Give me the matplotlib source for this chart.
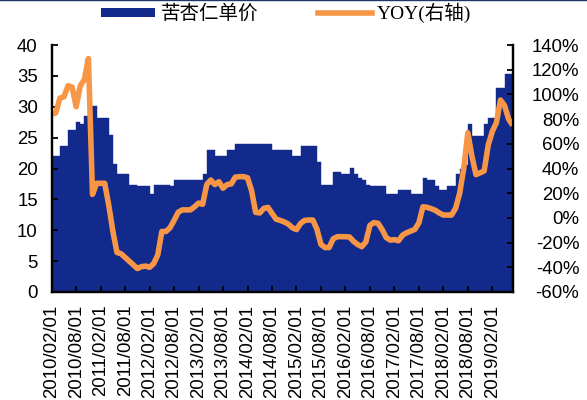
import matplotlib
matplotlib.use("Agg")
import matplotlib.pyplot as plt
from matplotlib.patches import Patch
from matplotlib.lines import Line2D
import numpy as np

plt.rcParams['font.family'] = ['Liberation Sans', 'Noto Sans CJK SC']

# monthly unit price (left axis), 2010/02 .. 2019/06
price = [22.0, 22.0, 23.6, 23.6, 26.2, 26.2, 27.5, 27.2, 28.5, 28.5,
         30.1, 28.1, 28.1, 28.1, 25.5, 20.7, 19.1, 19.1, 19.1, 17.4,
         17.4, 17.2, 17.2, 17.2, 15.8, 17.4, 17.4, 17.4, 17.4, 17.2,
         18.1, 18.1, 18.1, 18.1, 18.1, 18.1, 18.1, 19.1, 23.0, 23.0,
         22.0, 22.0, 22.0, 23.0, 23.0, 24.0, 24.0, 24.0, 24.0, 24.0,
         24.0, 24.0, 24.0, 24.0, 23.0, 23.0, 23.0, 23.0, 23.0, 22.0,
         22.0, 23.6, 23.6, 23.6, 23.6, 21.1, 17.4, 17.4, 17.4, 19.5,
         19.5, 19.1, 19.1, 20.1, 19.1, 18.4, 18.1, 17.4, 17.2, 17.2,
         17.2, 17.2, 15.8, 15.8, 15.8, 16.5, 16.5, 16.5, 15.8, 15.8,
         15.8, 18.4, 18.1, 18.1, 17.2, 16.5, 16.5, 17.2, 17.2, 19.1,
         20.0, 20.5, 27.2, 25.3, 25.3, 25.3, 27.2, 28.2, 28.2, 33.0,
         33.0, 35.3, 35.3]

# YOY (%) on right axis
yoy = [84, 85, 97, 98, 107, 106, 90, 107, 112, 129,
       19, 28, 28, 28, 10, -11, -28, -29, -32, -35,
       -38, -41, -39.5, -39, -40, -37, -30, -11, -11, -8,
       -2, 4.5, 6.5, 6.5, 6.5, 9, 12, 11, 27, 30.7,
       27, 29.3, 24, 27, 27.5, 33, 33.4, 33.4, 32.5, 22,
       4.5, 4, 7.7, 8.5, 3.7, -1, -2, -3.3, -5, -8,
       -9.5, -4.5, -2, -1.7, -1.7, -9, -21.5, -24, -24, -17,
       -15.2, -15.2, -15.2, -15.5, -19, -21.5, -23.3, -19.5, -6, -3.8,
       -4.4, -9.5, -16, -18, -17.6, -18.5, -14, -12, -10.7, -9.3,
       -4, 9, 8.6, 7.5, 6.2, 4, 2.3, 2.3, 2.3, 7.7,
       20, 40, 69, 50, 35, 36.5, 38, 59, 70, 77,
       95.5, 91, 80, 75]

tick_labels = ['2010/02/01', '2010/08/01', '2011/02/01', '2011/08/01',
               '2012/02/01', '2012/08/01', '2013/02/01', '2013/08/01',
               '2014/02/01', '2014/08/01', '2015/02/01', '2015/08/01',
               '2016/02/01', '2016/08/01', '2017/02/01', '2017/08/01',
               '2018/02/01', '2018/08/01', '2019/02/01']
left_ticks = [0, 5, 10, 15, 20, 25, 30, 35, 40]
right_ticks = [-60, -40, -20, 0, 20, 40, 60, 80, 100, 120, 140]

series_names = ['苦杏仁单价', 'YOY(右轴)']

NAVY = '#112A8C'
ORANGE = '#F79646'

W, H = 587, 400
fig = plt.figure(figsize=(W / 100, H / 100), dpi=100)
L, R, T, B = 51.7, 512.7, 45, 292
ax = fig.add_axes([L / W, 1 - B / H, (R - L) / W, (B - T) / H])

x = np.arange(len(price))
ax.bar(x, price, width=1.0, color=NAVY, edgecolor=NAVY, linewidth=0.3)
ax.set_xlim(-0.5, len(price) - 0.5)
ax.set_ylim(0, 40)
ax.set_yticks(left_ticks)
ax.set_yticklabels([str(v) for v in left_ticks])
ax.set_xticks(np.arange(0, len(price), 6) - 0.5)
ax.set_xticklabels(tick_labels, rotation=90)

ax2 = ax.twinx()
xl = np.arange(len(yoy)) - 0.5
ax2.plot(xl, yoy, color=ORANGE, lw=4.0, solid_joinstyle='round', solid_capstyle='butt')
ax2.set_ylim(-60, 140)
ax2.set_yticks(right_ticks)
ax2.set_yticklabels([f'{v}%' for v in right_ticks])
ax2.set_xlim(-0.5, len(price) - 0.5)

for a in (ax, ax2):
    a.spines['top'].set_visible(False)
    for s in ('left', 'right', 'bottom'):
        a.spines[s].set_linewidth(1.6)
        a.spines[s].set_color('black')

ax.tick_params(axis='y', direction='in', length=4, width=1.3, labelsize=13.4, pad=10)
ax.tick_params(axis='x', direction='in', length=4, width=1.3, labelsize=13.4, pad=9)
ax2.tick_params(axis='y', direction='in', length=4, width=1.3, labelsize=13.4, pad=48)
for t in ax2.get_yticklabels():
    t.set_horizontalalignment('right')

handles = [Patch(facecolor=NAVY, edgecolor='none'),
           Line2D([0], [0], color=ORANGE, lw=4)]
fig.legend(handles, series_names, loc='center', bbox_to_anchor=(0.488, 0.967),
           ncol=2, frameon=False,
           prop={'family': ['Liberation Serif', 'Noto Sans CJK SC'], 'size': 14},
           handlelength=2.75, handleheight=0.38, handletextpad=0.28, columnspacing=3.1)

fig.add_artist(Line2D([0, 1], [0.999, 0.999], transform=fig.transFigure,
                      color='#1F3864', lw=1))

fig.savefig('out.png', dpi=100)
